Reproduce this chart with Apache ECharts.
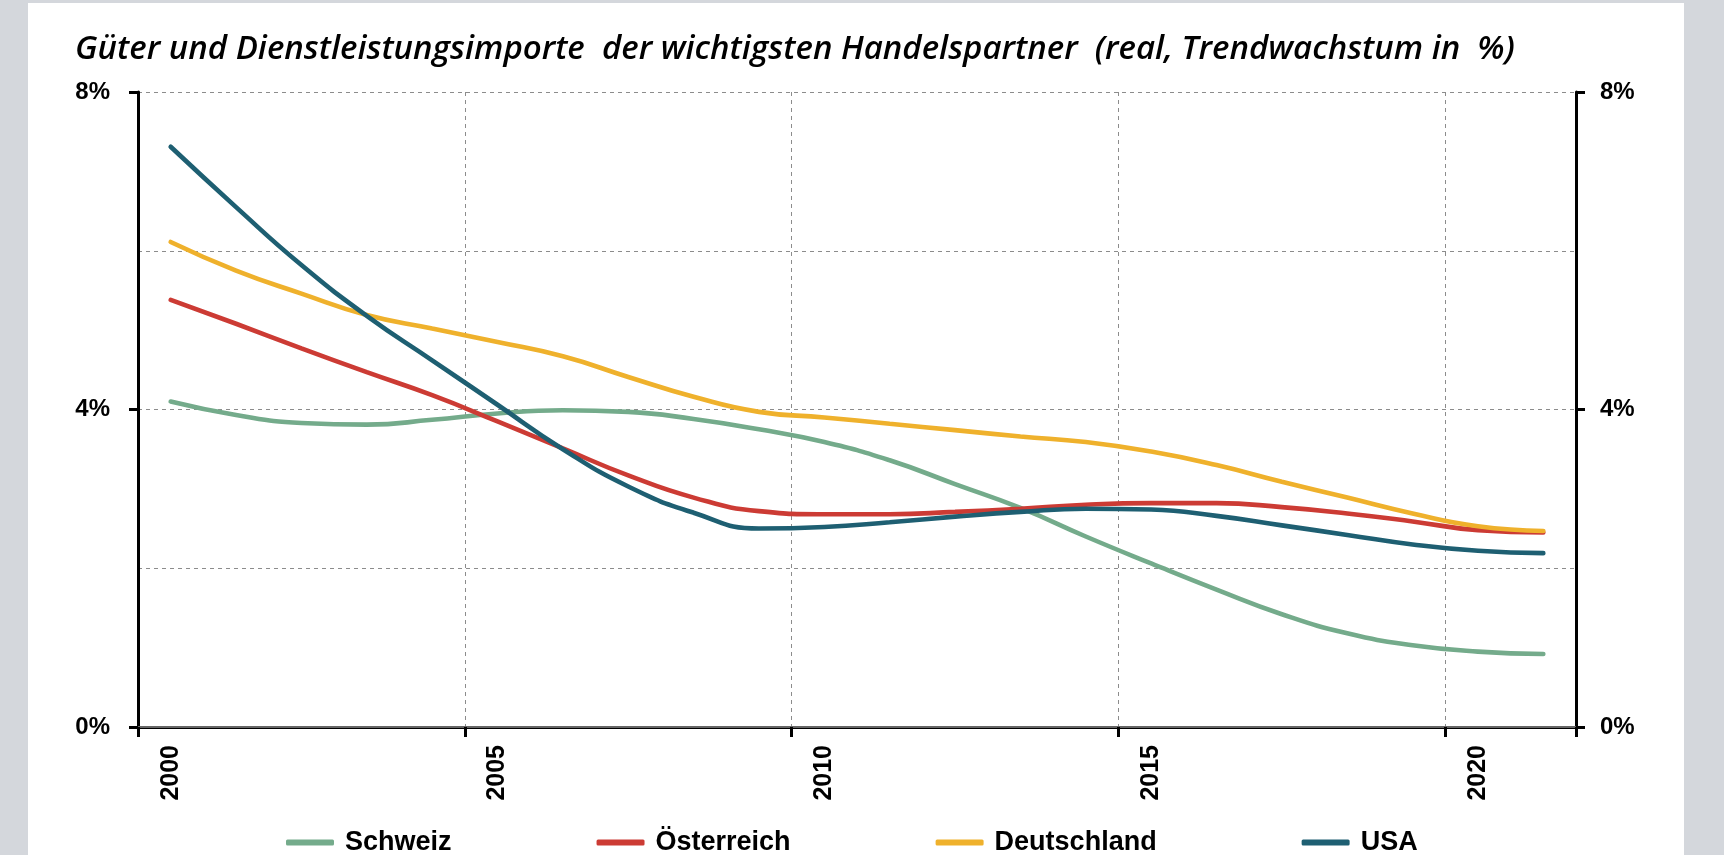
<!DOCTYPE html>
<html>
<head>
<meta charset="utf-8">
<script src="https://cdn.jsdelivr.net/npm/echarts@6/dist/echarts.min.js"></script>
<style>
  html, body { margin: 0; padding: 0; background: #d4d7dc; }
  #panel { position: absolute; left: 28px; top: 3px; width: 1656px; height: 852px; background: #fff; }
  #main { position: absolute; left: 0; top: 0; width: 1724px; height: 855px; }
</style>
</head>
<body>
<div id="panel"></div>
<div id="main"></div>
<script>
const years = ['2000', '2001', '2002', '2003', '2004', '2005', '2006', '2007', '2008', '2009', '2010',
  '2011', '2012', '2013', '2014', '2015', '2016', '2017', '2018', '2019', '2020', '2021']

// Trendwachstum in %
const schweiz = [4.10, 3.93, 3.83, 3.81, 3.87, 3.95, 3.99, 3.97, 3.88, 3.75, 3.59,
  3.36, 3.06, 2.76, 2.40, 2.06, 1.73, 1.42, 1.18, 1.03, 0.95, 0.92]
const oesterreich = [5.38, 5.08, 4.77, 4.47, 4.18, 3.85, 3.51, 3.17, 2.89, 2.72, 2.68,
  2.68, 2.71, 2.75, 2.80, 2.82, 2.82, 2.77, 2.69, 2.59, 2.48, 2.45]
const deutschland = [6.11, 5.75, 5.46, 5.19, 5.02, 4.85, 4.67, 4.41, 4.16, 3.97, 3.90,
  3.82, 3.74, 3.66, 3.59, 3.47, 3.30, 3.09, 2.89, 2.69, 2.53, 2.47]
const usa = [7.31, 6.55, 5.82, 5.18, 4.62, 4.06, 3.50, 3.03, 2.70, 2.50, 2.52,
  2.58, 2.65, 2.71, 2.75, 2.74, 2.66, 2.54, 2.42, 2.30, 2.22, 2.19]

const yTicks = [0, 4, 8]
const names = ['Schweiz', 'Österreich', 'Deutschland', 'USA']
const colors = ['#74ab8b', '#cc3b34', '#efb12c', '#1e5f72']

// the original title is set justified, hence a few wider gaps
const titleText = 'Güter und Dienstleistungsimporte  der wichtigsten Handelspartner  (real, Trendwachstum in  %)'

const chart = echarts.init(document.getElementById('main'))

const labelFont = {
  color: '#000',
  fontFamily: 'Liberation Sans, Arial, sans-serif',
  fontWeight: 'bold'
}

function lineSeries(name, data, color) {
  return {
    name: name,
    type: 'line',
    data: data,
    smooth: 0.5,
    symbol: 'none',
    lineStyle: { width: 4.6, color: color, cap: 'round' },
    itemStyle: { color: color }
  }
}

const option = {
  animation: false,
  title: {
    text: titleText,
    left: 70,
    top: 28,
    textStyle: {
      fontFamily: 'Open Sans, sans-serif',
      fontStyle: 'italic',
      fontWeight: 600,
      fontSize: 33,
      color: '#000'
    }
  },
  legend: {
    data: names,
    left: 281,
    top: 824,
    icon: 'roundRect',
    itemWidth: 48,
    itemHeight: 6,
    itemGap: 145,
    textStyle: Object.assign({ fontSize: 27, padding: [0, 0, 0, 6] }, labelFont)
  },
  grid: { left: 138, right: 148, top: 92, bottom: 128 },
  xAxis: [{
    type: 'category',
    data: years,
    boundaryGap: true,
    position: 'bottom',
    axisLine: { lineStyle: { color: '#000', width: 3 } },
    axisTick: { show: true, interval: 4, length: 10, lineStyle: { color: '#000', width: 3 } },
    axisLabel: Object.assign({ interval: 4, rotate: 90, fontSize: 25, margin: 18 }, labelFont),
    splitLine: { show: true, interval: 4, lineStyle: { color: '#8c8c8c', width: 1, type: [4, 4] } }
  }, {
    type: 'category',
    data: years,
    position: 'top',
    axisLine: { lineStyle: { color: '#888', width: 1.5 } },
    axisTick: { show: false },
    axisLabel: { show: false },
    splitLine: { show: false }
  }],
  yAxis: [{
    type: 'value',
    position: 'left',
    min: 0,
    max: 8,
    interval: 4,
    axisLine: { show: true, lineStyle: { color: '#000', width: 3 } },
    axisTick: { show: true, length: 9, lineStyle: { color: '#000', width: 3 } },
    axisLabel: Object.assign({ formatter: '{value}%', fontSize: 24, margin: 28, customValues: yTicks }, labelFont),
    splitLine: { show: false }
  }, {
    type: 'value',
    position: 'right',
    min: 0,
    max: 8,
    interval: 4,
    axisLine: { show: true, lineStyle: { color: '#000', width: 3 } },
    axisTick: { show: true, length: 9, lineStyle: { color: '#000', width: 3 } },
    axisLabel: Object.assign({ formatter: '{value}%', fontSize: 24, margin: 24, customValues: yTicks }, labelFont),
    splitLine: { show: false }
  }, {
    // only for the dashed grid every 2%
    type: 'value',
    position: 'left',
    min: 0,
    max: 8,
    interval: 2,
    axisLine: { show: false },
    axisTick: { show: false },
    axisLabel: { show: false },
    splitLine: { show: true, lineStyle: { color: '#8c8c8c', width: 1, type: [4, 4] } }
  }],
  series: [
    lineSeries(names[0], schweiz, colors[0]),
    lineSeries(names[1], oesterreich, colors[1]),
    lineSeries(names[2], deutschland, colors[2]),
    lineSeries(names[3], usa, colors[3])
  ]
}

chart.setOption(option)
</script>
</body>
</html>
